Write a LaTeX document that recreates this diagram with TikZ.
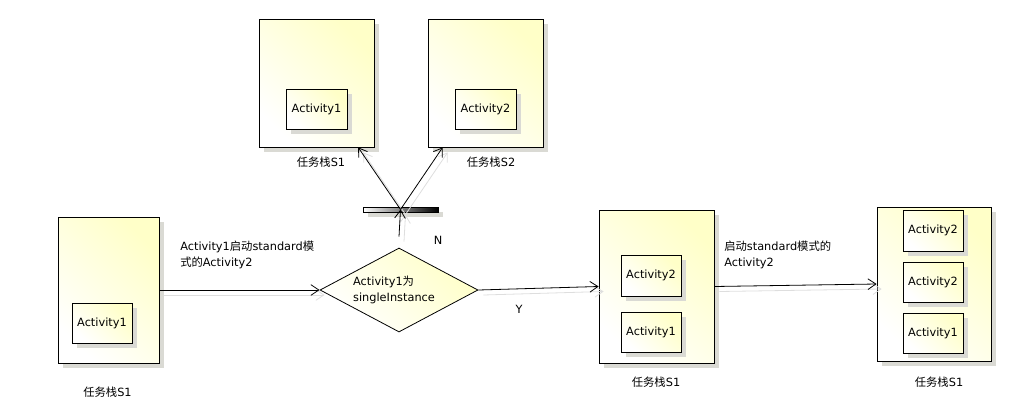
\documentclass[tikz,border=0pt]{standalone}
\usepackage{fontspec}
\setmainfont{DejaVu Sans}
\newfontfamily\cjk{Noto Sans CJK SC}
\usetikzlibrary{arrows.meta,shapes.geometric,calc}
\definecolor{paleyellow}{RGB}{255,255,200}
\definecolor{shadowgray}{RGB}{218,218,212}
\definecolor{lineshadow}{RGB}{222,222,222}
\newcommand{\zh}[1]{{\cjk #1}}
% box with a flat shadow offset 5px right and down: name, x, y, width, height, text
\newcommand{\shadowed}[6]{%
  \fill[shadowgray] (#2-#4/2+5,#3-#5/2+5) rectangle (#2+#4/2+5,#3+#5/2+5);
  \node[stackbox,sz={#4}{#5}] (#1) at (#2,#3) {#6};}
% connector with a light shadow copy
\newcommand{\link}[2]{%
  \draw[lshadow,transform canvas={shift={(3.75pt,-3.75pt)}}] (#1) -- (#2);
  \draw[conn] (#1) -- (#2);}

\begin{document}
\begin{tikzpicture}[x=0.75pt,y=-0.75pt,
  font=\fontsize{8.5}{12}\selectfont,
  sz/.style 2 args={minimum width=#1*0.75pt,minimum height=#2*0.75pt},
  ushade/.style={left color=white,right color=paleyellow,shading angle=135},
  stackbox/.style={draw,line width=0.6pt,ushade,inner sep=0pt},
  lbl/.style={inner sep=0pt},
  tip/.style={-{Straight Barb[length=6pt,width=8pt]}},
  conn/.style={line width=0.6pt,tip},
  lshadow/.style={line width=0.6pt,draw=lineshadow,tip}]
\useasboundingbox (0,0) rectangle (1016,407);

% upper stacks (branch N)
\shadowed{s1a}{316.5}{83}{115}{128}{}
\shadowed{a1a}{316.5}{109}{61}{40}{Activity1}
\node[lbl] (l1a) at (321,162) {\zh{任务栈}S1};

\shadowed{s2a}{485.5}{83}{115}{128}{}
\shadowed{a2a}{485.5}{109}{61}{40}{Activity2}
\node[lbl] (l2a) at (491,162) {\zh{任务栈}S2};

% fork bar
\fill[shadowgray] (368,212) rectangle (443,217);
\node[draw,line width=0.6pt,left color=white,right color=black,inner sep=0pt,sz={75}{5}] (fork) at (400.5,209.5) {};

% starting stack
\shadowed{s0}{108.5}{290}{101}{146}{}
\shadowed{a0}{102}{323}{60}{40}{Activity1}
\node[lbl] (l0) at (107.5,392) {\zh{任务栈}S1};

% decision
\node[diamond,draw,line width=0.6pt,ushade,inner sep=0pt,sz={158}{84},shape aspect=1.88] (dec) at (399,290) {};
\node[lbl,align=left] (dect) at (394,290) {Activity1\zh{为}\\singleInstance};

% stack after branch Y
\shadowed{sm}{656.5}{286.5}{115}{153}{}
\shadowed{am2}{651}{275.5}{60}{41}{Activity2}
\shadowed{am1}{651}{332}{60}{40}{Activity1}
\node[lbl] (lm) at (656,382) {\zh{任务栈}S1};

% final stack
\shadowed{sr}{934}{284}{114}{154}{}
\shadowed{ar3}{933}{230.5}{60}{41}{Activity2}
\shadowed{ar2}{933}{282}{60}{40}{Activity2}
\shadowed{ar1}{933}{333}{60}{40}{Activity1}
\node[lbl] (lr) at (939,382) {\zh{任务栈}S1};

% connectors
\link{s0.east}{dec.west}
\link{dec.east}{sm.west}
\link{sm.east}{sr.west}
\coordinate (nstart) at ($(dec.north)+(0,-11)$);
\coordinate (toS1) at ($(s1a.south west)!0.86!(s1a.south east)$);
\coordinate (toS2) at ($(s2a.south west)!0.13!(s2a.south east)$);
\link{nstart}{fork.center}
\link{fork.center}{toS1}
\link{fork.center}{toS2}

% connector labels
\node[lbl,anchor=west,align=left] (t1) at (180,255) {Activity1\zh{启动}standard\zh{模}\\\zh{式的}Activity2};
\node[lbl,anchor=west,align=left] (t2) at (724,255) {\zh{启动}standard\zh{模式的}\\Activity2};
\node[lbl] (ny) at (519,309) {Y};
\node[lbl] (nn) at (438,240) {N};
\end{tikzpicture}
\end{document}
